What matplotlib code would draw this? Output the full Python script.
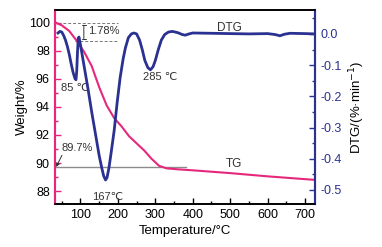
import matplotlib
matplotlib.use("Agg")
import matplotlib.pyplot as plt
from matplotlib.ticker import MultipleLocator

plt.rcParams['font.family'] = ['Liberation Sans', 'DejaVu Sans']

pink = "#e6287d"
navy = "#2b3190"

# TG curve (temperature, weight %)
tg_t = [33, 50, 70, 90, 110, 130, 150, 170, 190, 210, 230, 250, 270, 290,
        310, 330, 360, 400, 500, 600, 700, 727]
tg_w = [100.0, 99.8, 99.4, 98.7, 97.9, 96.9, 95.4, 94.1, 93.2, 92.6, 91.9,
        91.4, 90.9, 90.3, 89.8, 89.62, 89.55, 89.48, 89.28, 89.05, 88.85, 88.8]

# DTG curve (temperature, %/min)
dtg_t = [40, 45, 50, 55, 60, 65, 70, 75, 80, 85, 88, 90, 92, 94, 96, 100, 105,
         110, 120, 130, 140, 150, 157, 162, 167, 171, 176, 182, 190, 198, 206,
         214, 220, 228, 236, 243, 250, 258, 265, 272, 280, 287, 294, 300, 308,
         316, 325, 335, 346, 360, 372, 380, 390, 400, 450, 500, 550, 600, 620,
         633, 645, 660, 700, 727]
dtg_v = [0.003, 0.008, 0.006, -0.005, -0.02, -0.04, -0.065, -0.095, -0.122,
         -0.142, -0.147, -0.12, -0.06, -0.015, -0.01, -0.035, -0.07, -0.105,
         -0.175, -0.25, -0.32, -0.39, -0.43, -0.455, -0.468, -0.46, -0.43,
         -0.38, -0.31, -0.22, -0.14, -0.08, -0.045, -0.012, 0.0, 0.003, 0.0,
         -0.02, -0.05, -0.085, -0.108, -0.115, -0.105, -0.085, -0.05, -0.02,
         -0.002, 0.006, 0.008, 0.004, -0.002, -0.004, 0.0, 0.003, 0.002, 0.001,
         0.0, 0.001, -0.002, -0.006, -0.001, 0.002, 0.001, 0.0]

fig = plt.figure(figsize=(3.82, 2.47), dpi=100)
ax = fig.add_axes([0.145, 0.174, 0.68, 0.786])
ax2 = ax.twinx()

ax.plot(tg_t, tg_w, color=pink, lw=1.5, zorder=3)
ax2.plot(dtg_t, dtg_v, color=navy, lw=2.0)

# reference lines
ax.plot([33, 382], [89.7, 89.7], color="#8c8c8c", lw=1, zorder=2)
ax.plot([40, 200], [100, 100], color="#777777", lw=0.7, ls=(0, (3, 2)))
ax.plot([86, 200], [98.65, 98.65], color="#777777", lw=0.7, ls=(0, (3, 2)))
ax.annotate("", xy=(109, 100), xytext=(109, 98.65),
            arrowprops=dict(arrowstyle="|-|", mutation_scale=1.5, lw=0.7, color="#333333"))

ax.set_xlim(33, 727)
ax.set_ylim(87.08, 100.9)
ax2.set_ylim(-0.545, 0.077)

ax.xaxis.set_major_locator(MultipleLocator(100))
ax.xaxis.set_minor_locator(MultipleLocator(50))
ax.yaxis.set_major_locator(MultipleLocator(2))
ax.yaxis.set_minor_locator(MultipleLocator(1))
ax2.yaxis.set_major_locator(MultipleLocator(0.1))
ax2.yaxis.set_minor_locator(MultipleLocator(0.05))
ax2.set_yticks([0.0, -0.1, -0.2, -0.3, -0.4, -0.5])
ax2.set_yticklabels(["0.0", "-0.1", "-0.2", "-0.3", "-0.4", "-0.5"])

ax.tick_params(axis="x", which="both", direction="in", labelsize=9, top=False)
ax.tick_params(axis="x", which="major", length=4, width=1)
ax.tick_params(axis="x", which="minor", length=2, width=1)
ax.tick_params(axis="y", which="both", direction="in", colors=pink, labelcolor="black",
               labelsize=9, pad=4)
ax.tick_params(axis="y", which="major", length=4, width=1)
ax.tick_params(axis="y", which="minor", length=2, width=1)
ax2.tick_params(axis="y", which="both", direction="in", colors=navy, labelcolor=navy, labelsize=9)
ax2.tick_params(axis="y", which="major", length=4, width=1)
ax2.tick_params(axis="y", which="minor", length=2, width=1)

for a in (ax, ax2):
    a.spines["left"].set_color(pink)
    a.spines["left"].set_linewidth(1.5)
    a.spines["right"].set_color(navy)
    a.spines["right"].set_linewidth(1.5)
    a.spines["top"].set_linewidth(1.2)
    a.spines["bottom"].set_linewidth(1.2)

ax.set_xlabel("Temperature/°C", fontsize=9.5, labelpad=3)
ax.set_ylabel("Weight/%", fontsize=9.5, labelpad=1)
ax2.set_ylabel("DTG/(%·min$^{-1}$)", fontsize=9.5, labelpad=4)

# annotations
ax.text(120, 99.4, "1.78%", fontsize=8, va="center", ha="left", color="#333333")
ax.text(48, 95.35, "85 ℃", fontsize=8, va="center", ha="left", color="#333333")
ax.text(172, 87.6, "167℃", fontsize=8, va="center", ha="center", color="#333333")
ax2.text(267, -0.138, "285 ℃", fontsize=8, va="center", ha="left", color="#333333")
ax2.text(498, 0.019, "DTG", fontsize=8.5, va="center", ha="center", color="#333333")
ax.text(510, 89.95, "TG", fontsize=8.5, va="center", ha="center", color="#333333")
ax.annotate("89.7%", xy=(35, 89.72), xytext=(50, 91.1), fontsize=8, va="center",
            color="#333333",
            arrowprops=dict(arrowstyle="-|>", lw=0.7, color="#333333", mutation_scale=5,
                            shrinkA=0, shrinkB=0, relpos=(0.05, 0)))

fig.savefig("out.png", dpi=100)
